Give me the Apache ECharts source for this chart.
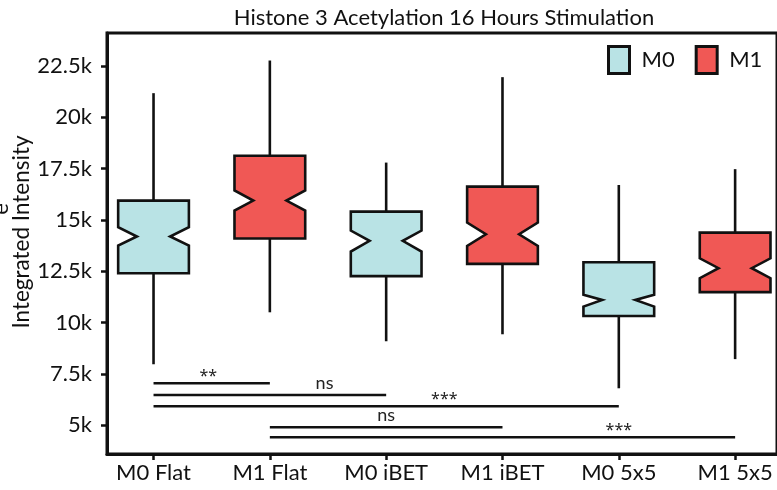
<!DOCTYPE html>
<html>
<head>
<meta charset="utf-8">
<script src="https://cdn.jsdelivr.net/npm/echarts@6/dist/echarts.min.js"></script>
<style>
html,body{margin:0;padding:0;background:#fff;}
#chart{width:777px;height:490px;}
</style>
</head>
<body>
<div id="chart"></div>
<script>
// ---- data ----
var categories = ['M0 Flat', 'M1 Flat', 'M0 iBET', 'M1 iBET', 'M0 5x5', 'M1 5x5'];
var groups = ['M0', 'M1', 'M0', 'M1', 'M0', 'M1'];
var whiskerLow  = [7970, 10500, 9090, 9430, 6800, 8220];
var q1          = [12400, 14090, 12260, 12860, 10320, 11480];
var notchLow    = [13750, 15450, 13460, 13730, 10780, 12160];
var median      = [14190, 15940, 13980, 14300, 11100, 12650];
var notchHigh   = [14640, 16430, 14480, 14870, 11350, 13130];
var q3          = [15940, 18120, 15400, 16620, 12940, 14380];
var whiskerHigh = [21170, 22760, 17790, 21950, 16700, 17470];

var yTickValues = [5000, 7500, 10000, 12500, 15000, 17500, 20000, 22500];
var yTickLabels = ['5k', '7.5k', '10k', '12.5k', '15k', '17.5k', '20k', '22.5k'];

var sigFrom   = [0, 0, 0, 1, 1];
var sigTo     = [1, 2, 4, 3, 5];
var sigLevel  = [7045, 6475, 5925, 4900, 4415];
var sigLabel  = ['**', 'ns', '***', 'ns', '***'];
var sigLabelX = [0.47, 1.47, 2.5, 2.0, 4.0];

var seriesColors = {M0: '#B9E3E5', M1: '#F05855'};
var FONT = 'Lato';
var INK = '#111111';

// ---- build ----
function boxData(g) {
  var out = [];
  for (var i = 0; i < categories.length; i++) {
    if (groups[i] === g) {
      out.push([i, whiskerLow[i], q1[i], notchLow[i], median[i], notchHigh[i], q3[i], whiskerHigh[i]]);
    }
  }
  return out;
}

var BOX_W = 0.608;
function renderBox(params, api) {
  var x = api.value(0);
  var c = function (v) { return api.coord([x, v]); };
  var hw = api.size([BOX_W, 0])[0] / 2;
  var nw = hw * 0.47;
  var cx = c(0)[0];
  var yWL = c(api.value(1))[1], yQ1 = c(api.value(2))[1], yNL = c(api.value(3))[1];
  var yMed = c(api.value(4))[1], yNH = c(api.value(5))[1], yQ3 = c(api.value(6))[1];
  var yWH = c(api.value(7))[1];
  var lineStyle = {stroke: INK, lineWidth: 2.6};
  return {
    type: 'group',
    children: [
      {type: 'line', shape: {x1: cx, y1: yWH, x2: cx, y2: yQ3}, style: lineStyle},
      {type: 'line', shape: {x1: cx, y1: yQ1, x2: cx, y2: yWL}, style: lineStyle},
      {type: 'polygon', shape: {points: [
        [cx - hw, yQ3], [cx + hw, yQ3], [cx + hw, yNH], [cx + nw, yMed], [cx + hw, yNL],
        [cx + hw, yQ1], [cx - hw, yQ1], [cx - hw, yNL], [cx - nw, yMed], [cx - hw, yNH]
      ]}, style: {fill: api.visual('color'), stroke: INK, lineWidth: 2.6, lineJoin: 'miter'}}
    ]
  };
}

var sigData = [];
for (var k = 0; k < sigFrom.length; k++) {
  sigData.push([sigFrom[k], sigTo[k], sigLevel[k], sigLabelX[k]]);
}
function renderSig(params, api) {
  var a = api.coord([api.value(0), api.value(2)]);
  var b = api.coord([api.value(1), api.value(2)]);
  var t = api.coord([api.value(3), api.value(2)]);
  var lab = sigLabel[params.dataIndex];
  var isStar = lab.indexOf('*') >= 0;
  return {
    type: 'group',
    children: [
      {type: 'line', shape: {x1: a[0], y1: a[1], x2: b[0], y2: b[1]}, style: {stroke: INK, lineWidth: 2.6}},
      {type: 'text', x: t[0], y: isStar ? t[1] + 1 : t[1] - 3, style: {
        text: lab, fill: '#222', font: isStar ? '16px "Noto Sans"' : '18px ' + FONT,
        align: 'center', verticalAlign: 'bottom'
      }}
    ]
  };
}

var chart = echarts.init(document.getElementById('chart'), null, {renderer: 'canvas'});
chart.setOption({
  animation: false,
  backgroundColor: '#ffffff',
  title: {
    text: 'Histone 3 Acetylation 16 Hours Stimulation',
    left: 439, textAlign: 'center', top: 2,
    textStyle: {fontFamily: FONT, fontWeight: 'normal', fontSize: 22, color: INK}
  },
  legend: {
    data: ['M0', 'M1'],
    left: 602, top: 40,
    icon: 'rect', itemWidth: 21, itemHeight: 27, itemGap: 20,
    itemStyle: {borderColor: INK, borderWidth: 3},
    textStyle: {fontFamily: FONT, fontSize: 22, color: INK, padding: [0, 0, 0, 7]}
  },
  grid: {left: 107, top: 33, right: -2, bottom: 36, show: true, borderColor: INK, borderWidth: 3, backgroundColor: 'transparent'},
  xAxis: {
    type: 'value', min: -0.4, max: 5.36,
    splitLine: {show: false},
    axisLine: {show: true, onZero: false, lineStyle: {color: INK, width: 3}},
    axisTick: {show: true, length: 6, lineStyle: {color: INK, width: 2.5}, customValues: [0, 1, 2, 3, 4, 5]},
    axisLabel: {
      customValues: [0, 1, 2, 3, 4, 5], margin: 8,
      formatter: function (v) { return categories[Math.round(v)]; },
      fontFamily: FONT, fontSize: 22, color: INK
    }
  },
  yAxis: {
    type: 'value', min: 3600, max: 24100,
    splitLine: {show: false},
    axisLine: {show: true, onZero: false, lineStyle: {color: INK, width: 3}},
    axisTick: {show: true, length: 6, lineStyle: {color: INK, width: 2.5}, customValues: yTickValues},
    axisLabel: {
      customValues: yTickValues, margin: 15,
      formatter: function (v) { return yTickLabels[yTickValues.indexOf(v)]; },
      fontFamily: FONT, fontSize: 22, color: INK
    }
  },
  graphic: [
    {type: 'text', x: 22, y: 232, rotation: Math.PI / 2, style: {
      text: 'Integrated Intensity', font: '22.5px ' + FONT, fill: INK, align: 'center', verticalAlign: 'middle'}},
    {type: 'text', x: 0.5, y: 209, rotation: Math.PI / 2, style: {
      text: 'e', font: '22px ' + FONT, fill: INK, align: 'center', verticalAlign: 'middle'}}
  ],
  series: [
    {name: 'M0', type: 'custom', data: boxData('M0'), renderItem: renderBox,
     itemStyle: {color: seriesColors.M0, borderColor: INK, borderWidth: 3},
     encode: {x: 0, y: [1, 2, 3, 4, 5, 6, 7]}, clip: false, z: 3},
    {name: 'M1', type: 'custom', data: boxData('M1'), renderItem: renderBox,
     itemStyle: {color: seriesColors.M1, borderColor: INK, borderWidth: 3},
     encode: {x: 0, y: [1, 2, 3, 4, 5, 6, 7]}, clip: false, z: 3},
    {name: 'sig', type: 'custom', data: sigData, renderItem: renderSig,
     encode: {x: [0, 1, 3], y: 2}, clip: false, z: 2, silent: true}
  ]
});
</script>
</body>
</html>
